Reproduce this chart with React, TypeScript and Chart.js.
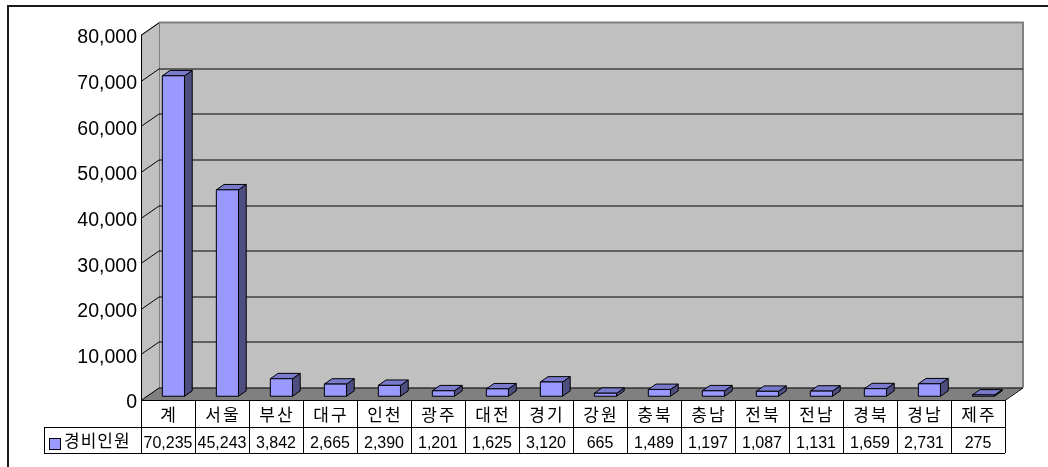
import React, { useEffect, useRef } from "react";
import { Chart, registerables } from "chart.js";

Chart.register(...registerables);

const categories = ["계", "서울", "부산", "대구", "인천", "광주", "대전", "경기", "강원", "충북", "충남", "전북", "전남", "경북", "경남", "제주"];
const seriesName = "경비인원";
const values = [70235, 45243, 3842, 2665, 2390, 1201, 1625, 3120, 665, 1489, 1197, 1087, 1131, 1659, 2731, 275];
const yTicks = [0, 10000, 20000, 30000, 40000, 50000, 60000, 70000, 80000];

const fmt = (v: number) => v.toLocaleString("en-US");

const DEPTH_X = 18;
const DEPTH_Y = -12.5;
const BAR_OFF = 0.3;
const BAR_DEPTH = 0.43;

const FRONT = "#9999FF";
const TOP = "#7A7ACC";
const SIDE = "#4D4D80";

const threeD = {
  id: "threeD",
  beforeDatasetsDraw(chart: any) {
    const { ctx, chartArea: a, scales } = chart;
    const y = scales.y;
    ctx.save();
    ctx.fillStyle = "#1a1a1a";
    ctx.fillRect(7, 5, 1041, 2);
    ctx.fillRect(7, 5, 2, 462);

    const L = a.left, R = a.right, T = a.top, B = a.bottom;
    const bl = L + DEPTH_X, br = R + DEPTH_X, bt = T + DEPTH_Y, bb = B + DEPTH_Y;
    ctx.fillStyle = "#C0C0C0";
    ctx.fillRect(bl, bt, br - bl, bb - bt);
    ctx.beginPath();
    ctx.moveTo(L, T); ctx.lineTo(bl, bt); ctx.lineTo(bl, bb); ctx.lineTo(L, B); ctx.closePath();
    ctx.fill();
    ctx.fillStyle = "#808080";
    ctx.beginPath();
    ctx.moveTo(L, B); ctx.lineTo(bl, bb); ctx.lineTo(br, bb); ctx.lineTo(R, B); ctx.closePath();
    ctx.fill();

    ctx.strokeStyle = "#808080";
    ctx.lineWidth = 2;
    ctx.beginPath();
    ctx.moveTo(bl, bt); ctx.lineTo(br, bt); ctx.lineTo(br, bb);
    ctx.stroke();
    ctx.lineWidth = 1;
    ctx.beginPath();
    ctx.moveTo(bl + 0.5, bt); ctx.lineTo(bl + 0.5, bb);
    ctx.moveTo(L, T); ctx.lineTo(bl, bt);
    ctx.stroke();

    ctx.strokeStyle = "#000";
    ctx.lineWidth = 1;
    ctx.beginPath();
    yTicks.forEach((v) => {
      const py = Math.round(y.getPixelForValue(v)) + 0.5;
      if (v !== 80000) {
        ctx.moveTo(bl, py + DEPTH_Y); ctx.lineTo(br, py + DEPTH_Y);
      }
      ctx.moveTo(L, py); ctx.lineTo(bl, py + DEPTH_Y);
    });
    ctx.stroke();
    ctx.beginPath();
    ctx.moveTo(R, B + 0.5); ctx.lineTo(br, bb + 0.5);
    ctx.stroke();
    ctx.beginPath();
    ctx.moveTo(L + 0.5, T); ctx.lineTo(L + 0.5, B);
    ctx.stroke();
    ctx.restore();
  },
  afterDatasetsDraw(chart: any) {
    const { ctx } = chart;
    const meta = chart.getDatasetMeta(0);
    const ox = DEPTH_X * BAR_OFF, oy = DEPTH_Y * BAR_OFF;
    const dx = DEPTH_X * BAR_DEPTH, dy = DEPTH_Y * BAR_DEPTH;
    ctx.save();
    ctx.strokeStyle = "#000";
    ctx.lineWidth = 1;
    ctx.lineJoin = "round";
    meta.data.forEach((el: any) => {
      const { x, y, base, width } = el.getProps(["x", "y", "base", "width"], true);
      const l = x - width / 2 + ox, r = x + width / 2 + ox;
      const t = y + oy, b = base + oy;
      ctx.fillStyle = SIDE;
      ctx.beginPath();
      ctx.moveTo(r, t); ctx.lineTo(r + dx, t + dy); ctx.lineTo(r + dx, b + dy); ctx.lineTo(r, b); ctx.closePath();
      ctx.fill(); ctx.stroke();
      ctx.fillStyle = TOP;
      ctx.beginPath();
      ctx.moveTo(l, t); ctx.lineTo(l + dx, t + dy); ctx.lineTo(r + dx, t + dy); ctx.lineTo(r, t); ctx.closePath();
      ctx.fill(); ctx.stroke();
      ctx.fillStyle = FRONT;
      ctx.fillRect(l, t, r - l, b - t);
      ctx.strokeRect(l, t, r - l, b - t);
    });
    ctx.restore();
  },
  afterDraw(chart: any) {
    const { ctx, chartArea: a, scales } = chart;
    const xs = scales.x;
    const n = categories.length;
    const colW = (a.right - a.left) / n;
    const r1t = a.bottom, r1b = 427, r2b = 453;
    const tableLeft = 44;
    ctx.save();
    ctx.strokeStyle = "#000";
    ctx.lineWidth = 1;
    ctx.beginPath();
    ctx.moveTo(a.left, r1t + 0.5); ctx.lineTo(a.right, r1t + 0.5);
    ctx.moveTo(tableLeft, r1b + 0.5); ctx.lineTo(a.right, r1b + 0.5);
    ctx.moveTo(tableLeft, r2b + 0.5); ctx.lineTo(a.right, r2b + 0.5);
    ctx.moveTo(tableLeft + 0.5, r1b); ctx.lineTo(tableLeft + 0.5, r2b);
    for (let i = 0; i <= n; i++) {
      const px = Math.round(a.left + i * colW) + 0.5;
      ctx.moveTo(px, r1t); ctx.lineTo(px, r2b);
    }
    ctx.stroke();

    ctx.fillStyle = "#000";
    ctx.textAlign = "center";
    ctx.textBaseline = "middle";
    ctx.font = '17px "Noto Sans CJK KR"';
    (ctx as any).letterSpacing = "2px";
    categories.forEach((c, i) => {
      const cx = xs.getPixelForValue(i);
      ctx.fillText(c, cx + 1, (r1t + r1b) / 2 + 1);
    });
    (ctx as any).letterSpacing = "0px";
    ctx.font = '16px "Liberation Sans", sans-serif';
    ctx.textBaseline = "alphabetic";
    values.forEach((v, i) => {
      const cx = xs.getPixelForValue(i);
      ctx.fillText(fmt(v), cx, 448);
    });
    ctx.fillStyle = FRONT;
    ctx.fillRect(49.5, 438.5, 11, 11);
    ctx.strokeRect(49.5, 438.5, 11, 11);
    ctx.fillStyle = "#000";
    ctx.textAlign = "left";
    ctx.textBaseline = "middle";
    ctx.font = '17px "Noto Sans CJK KR"';
    (ctx as any).letterSpacing = "1px";
    ctx.fillText(seriesName, 64, 441);
    ctx.restore();
  },
};

export default function App() {
  const ref = useRef<HTMLCanvasElement | null>(null);
  useEffect(() => {
    if (!ref.current) return;
    const chart = new Chart(ref.current, {
      type: "bar",
      data: {
        labels: categories,
        datasets: [
          {
            label: seriesName,
            data: values,
            backgroundColor: "rgba(0,0,0,0)",
            borderWidth: 0,
            categoryPercentage: 1,
            barPercentage: 0.41,
          },
        ],
      },
      options: {
        responsive: false,
        animation: false,
        events: [],
        layout: { padding: { top: 35, right: 43, bottom: 67, left: 0 } },
        plugins: { legend: { display: false }, tooltip: { enabled: false }, title: { display: false } },
        scales: {
          x: { type: "category", display: false, offset: true, grid: { display: false } },
          y: {
            min: 0,
            max: 80000,
            afterFit: (s: any) => { s.width = 141; },
            grid: { display: false, drawTicks: false },
            border: { display: false },
            ticks: {
              stepSize: 10000,
              padding: 4,
              labelOffset: 3,
              color: "#000",
              font: { family: '"Liberation Sans", Arial, sans-serif', size: 19.5 },
              callback: (v: any) => fmt(Number(v)),
            },
          },
        },
      },
      plugins: [threeD],
    });
    return () => chart.destroy();
  }, []);
  return (
    <div style={{ position: "fixed", left: 0, top: 0, width: 1048, height: 467, background: "#fff" }}>
      <canvas ref={ref} width={1048} height={467} style={{ display: "block" }} />
    </div>
  );
}
